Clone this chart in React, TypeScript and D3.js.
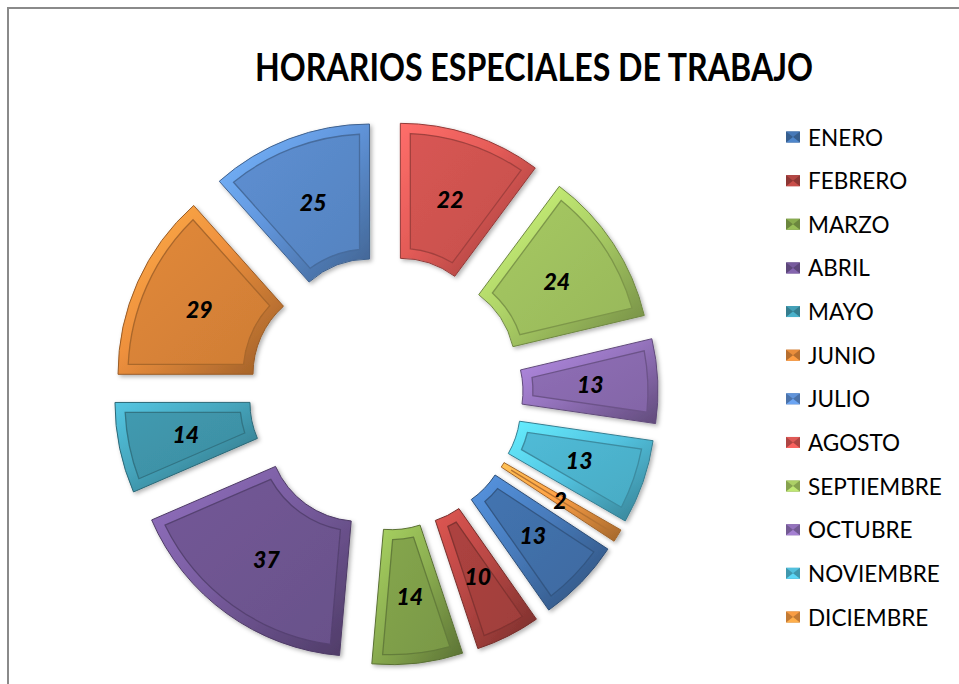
import React from 'react'
import * as d3 from 'd3'

// data
const months = [
  'ENERO', 'FEBRERO', 'MARZO', 'ABRIL', 'MAYO', 'JUNIO',
  'JULIO', 'AGOSTO', 'SEPTIEMBRE', 'OCTUBRE', 'NOVIEMBRE', 'DICIEMBRE',
]
const values = [13, 10, 14, 37, 14, 29, 25, 22, 24, 13, 13, 2]
const colors = [
  '#4170aa', '#a8413e', '#80a04a', '#6f5592', '#3f95aa', '#da8438',
  '#5a8acb', '#d05350', '#a0c25f', '#8a6bb0', '#4db4cf', '#e8923f',
]
const title = 'HORARIOS ESPECIALES DE TRABAJO'

const W = 959
const H = 684
const CX = 386
const CY = 393
const R_OUT = 226
const R_IN = 91
const EXPLODE = 46
const BEVEL = 10
const PAD_R = 100
const FIRST_SLICE_ANGLE = 123.3 // degrees, like Excel's "angle of first slice"

export default function App() {
  const start = (FIRST_SLICE_ANGLE * Math.PI) / 180
  const pie = d3
    .pie<number>()
    .sort(null)
    .value((d) => d)
    .startAngle(start)
    .endAngle(start + 2 * Math.PI)
  const arcs = pie(values)

  const frameArc = d3.arc<d3.PieArcDatum<number>>().innerRadius(R_IN).outerRadius(R_OUT)
  const faceArc = d3
    .arc<d3.PieArcDatum<number>>()
    .innerRadius(R_IN + BEVEL)
    .outerRadius(R_OUT - BEVEL)
    .padRadius(PAD_R)
    .padAngle(2 * Math.asin(BEVEL / PAD_R))

  const legendY = d3.scalePoint<string>().domain(months).range([137, 617])

  return (
    <svg
      width={W}
      height={H}
      style={{ position: 'absolute', left: 0, top: 0, background: '#fff' }}
    >
      <defs>
        <filter id="shadow" x="-20%" y="-20%" width="140%" height="140%">
          <feDropShadow dx="2" dy="2" stdDeviation="2" floodColor="#000" floodOpacity="0.3" />
        </filter>
        {colors.map((c, i) => (
          <linearGradient key={i} id={`frame${i}`} x1="0" y1="0" x2="1" y2="1">
            <stop offset="0%" stopColor={d3.color(c)!.brighter(0.8).formatHex()} />
            <stop offset="45%" stopColor={d3.color(c)!.brighter(0.25).formatHex()} />
            <stop offset="100%" stopColor={d3.color(c)!.darker(1).formatHex()} />
          </linearGradient>
        ))}
        {colors.map((c, i) => (
          <linearGradient key={i} id={`face${i}`} x1="0" y1="0" x2="1" y2="1">
            <stop offset="0%" stopColor={d3.color(c)!.brighter(0.1).formatHex()} />
            <stop offset="100%" stopColor={d3.color(c)!.darker(0.15).formatHex()} />
          </linearGradient>
        ))}
      </defs>

      <rect x={8} y={8} width={W + 40} height={H + 40} fill="#fff" stroke="#8a8a8a" strokeWidth={2} />

      <text
        x={534}
        y={81}
        textAnchor="middle"
        fontFamily="Lato, 'Open Sans', sans-serif"
        fontWeight="bold"
        fontSize={38}
        textLength={558}
        lengthAdjust="spacingAndGlyphs"
        fill="#000"
      >
        {title}
      </text>

      <g transform={`translate(${CX},${CY})`}>
        {arcs.map((d, i) => {
          const mid = (d.startAngle + d.endAngle) / 2
          const ex = Math.sin(mid) * EXPLODE
          const ey = -Math.cos(mid) * EXPLODE
          const base = colors[i]
          return (
            <g key={months[i]} transform={`translate(${ex},${ey})`} filter="url(#shadow)">
              <path
                d={frameArc(d) ?? ''}
                fill={`url(#frame${i})`}
                stroke={d3.color(base)!.darker(1).formatHex()}
                strokeWidth={1}
              />
              <path
                d={faceArc(d) ?? ''}
                fill={`url(#face${i})`}
                stroke={d3.color(base)!.darker(0.7).formatHex()}
                strokeWidth={1.3}
              />
            </g>
          )
        })}
        {arcs.map((d, i) => {
          const mid = (d.startAngle + d.endAngle) / 2
          const [lx, ly] = frameArc.centroid(d)
          return (
            <text
              key={months[i]}
              x={lx + Math.sin(mid) * EXPLODE}
              y={ly - Math.cos(mid) * EXPLODE}
              textAnchor="middle"
              dominantBaseline="central"
              fontFamily="Lato, 'Open Sans', sans-serif"
              fontWeight="900"
              fontStyle="italic"
              fontSize={23}
              fill="#000"
            >
              {values[i]}
            </text>
          )
        })}
      </g>

      <g>
        {months.map((m, i) => {
          const y = legendY(m)!
          const c = colors[i]
          const x0 = 786
          const w = 14
          const h = 11
          const top = y - h / 2
          return (
            <g key={m}>
              <rect x={x0} y={top} width={w} height={h} fill={d3.color(c)!.darker(0.5).formatHex()} />
              <polygon
                points={`${x0},${top} ${x0 + w},${top} ${x0 + w / 2},${top + h / 2}`}
                fill={d3.color(c)!.brighter(0.2).formatHex()}
              />
              <polygon
                points={`${x0},${top + h} ${x0 + w},${top + h} ${x0 + w / 2},${top + h / 2}`}
                fill={d3.color(c)!.brighter(0.5).formatHex()}
              />
              <text
                x={808}
                y={y}
                dominantBaseline="central"
                fontFamily="Lato, 'Open Sans', sans-serif"
                fontSize={22.5}
                fill="#000"
              >
                {m}
              </text>
            </g>
          )
        })}
      </g>
    </svg>
  )
}
